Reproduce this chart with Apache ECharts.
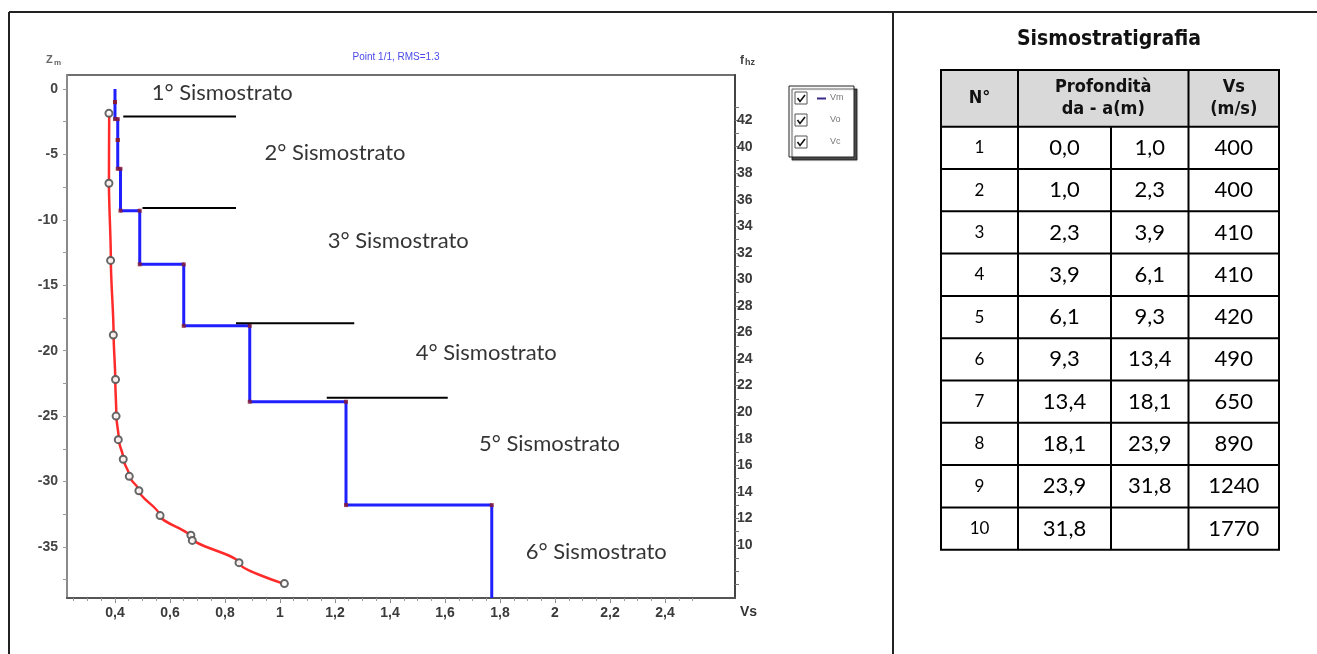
<!DOCTYPE html>
<html>
<head>
<meta charset="utf-8">
<script src="https://cdn.jsdelivr.net/npm/echarts@6/dist/echarts.min.js"></script>
<style>
html, body { margin: 0; padding: 0; background: #fff; }
#chart { width: 1317px; height: 654px; }
</style>
</head>
<body>
<div id="chart"></div>
<script>
// sismostratigrafia table: depth from/to (m), Vs (m/s)
var layerNo   = [1, 2, 3, 4, 5, 6, 7, 8, 9, 10];
var depthFrom = [0.0, 1.0, 2.3, 3.9, 6.1, 9.3, 13.4, 18.1, 23.9, 31.8];
var depthTo   = [1.0, 2.3, 3.9, 6.1, 9.3, 13.4, 18.1, 23.9, 31.8, null];
var vsLayer   = [400, 400, 410, 410, 420, 490, 650, 890, 1240, 1770];

// observed points (Vo) - Vs in km/s, depth in m
var obsVs    = [0.378, 0.378, 0.384, 0.394, 0.402, 0.404, 0.412, 0.430, 0.452, 0.487, 0.564, 0.676, 0.681, 0.851, 1.016];
var obsDepth = [1.86, 7.2, 13.1, 18.8, 22.2, 25.0, 26.8, 28.3, 29.6, 30.7, 32.6, 34.1, 34.5, 36.2, 37.8];

// calculated curve (Vc)
var calcVs    = [0.379, 0.378, 0.385, 0.395, 0.401, 0.405, 0.414, 0.431, 0.453, 0.488, 0.563, 0.679, 0.850, 1.012];
var calcDepth = [1.86, 7.2, 13.1, 18.8, 22.2, 25.0, 26.8, 28.3, 29.6, 30.7, 32.6, 34.3, 36.2, 37.8];

// hand drawn boundary lines: depth, Vs start, Vs end
var bndDepth = [2.1, 9.1, 17.9, 23.6];
var bndFrom  = [0.43, 0.50, 0.84, 1.17];
var bndTo    = [0.84, 0.84, 1.27, 1.61];

// strata labels
var strataNames = ['1° Sismostrato', '2° Sismostrato', '3° Sismostrato', '4° Sismostrato', '5° Sismostrato', '6° Sismostrato'];
var strataVs    = [0.79, 1.20, 1.43, 1.75, 1.98, 2.15];
var strataDepth = [0.3, 4.9, 11.6, 20.2, 27.1, 35.4];

// axes
var xMin = 0.2255, xMax = 2.6545;
var yMin = -38.9, yMax = 1.07;
var fMin = 6, fMax = 45.4;
var xLabels = [0.4, 0.6, 0.8, 1, 1.2, 1.4, 1.6, 1.8, 2, 2.2, 2.4];
var yLabels = [0, -5, -10, -15, -20, -25, -30, -35];
var fLabels = [10, 12, 14, 16, 18, 20, 22, 24, 26, 28, 30, 32, 34, 36, 38, 40, 42];

var xMinor = [], yMinor = [], fMinor = [];
for (var i = 5; i <= 50; i++) xMinor.push(i * 0.05);
for (var i = 0; i <= 15; i++) yMinor.push(-i * 2.5);
for (var i = 7; i <= 43; i++) fMinor.push(i);

// blue step profile
var vmData = [], vmDots = [];
for (var i = 0; i < vsLayer.length; i++) {
  var v = vsLayer[i] / 1000;
  vmData.push([v, -depthFrom[i]]);
  vmData.push([v, depthTo[i] == null ? yMin : -depthTo[i]]);
  if (depthTo[i] != null) {
    vmDots.push([v, -depthTo[i]]);
    vmDots.push([vsLayer[i + 1] / 1000, -depthTo[i]]);
  }
}

var obsData = obsVs.map(function (v, i) { return [v, -obsDepth[i]]; });
var calcData = calcVs.map(function (v, i) { return [v, -calcDepth[i]]; });
var strataData = strataNames.map(function (n, i) { return { name: n, value: [strataVs[i], -strataDepth[i]] }; });

var series = [
  { name: 'Vc', type: 'line', data: calcData, smooth: 0.3, smoothMonotone: 'y', showSymbol: false,
    lineStyle: { color: '#ff2a2a', width: 2.5 }, z: 3 },
  { name: 'Vo', type: 'scatter', data: obsData, symbol: 'emptyCircle', symbolSize: 7,
    itemStyle: { color: '#555', borderWidth: 1.2, opacity: 0.9 }, z: 4 },
  { name: 'Vm', type: 'line', data: vmData, showSymbol: false,
    lineStyle: { color: '#2020ff', width: 3 }, z: 5 },
  { name: 'VmDots', type: 'scatter', data: vmDots, symbol: 'rect', symbolSize: 4,
    itemStyle: { color: '#8b1a2a' }, z: 6 },
  { name: 'strata', type: 'scatter', data: strataData, symbolSize: 0,
    label: { show: true, position: 'inside', formatter: '{b}', color: '#000',
      fontFamily: 'Lato', fontSize: 22 }, z: 8 }
];
bndDepth.forEach(function (d, i) {
  series.push({ type: 'line', data: [[bndFrom[i], -d], [bndTo[i], -d]], showSymbol: false,
    lineStyle: { color: '#000', width: 2 }, z: 7 });
});

function fmtNum(v) { return String(Math.round(v * 10) / 10).replace('.', ','); }
function fmt1(v) { var s = fmtNum(v); return s.indexOf(',') < 0 ? s + ',0' : s; }

// table graphic
var T = { cols: [941, 1018, 1111, 1188.5, 1279], top: 70, headB: 126.7, rowH: 42.3 };
var tableBottom = T.headB + T.rowH * layerNo.length;
var g = [];
g.push({ type: 'rect', shape: { x: T.cols[0], y: T.top, width: T.cols[4] - T.cols[0], height: T.headB - T.top },
  style: { fill: '#d9d9d9' } });
var hl = [T.top, T.headB];
for (var r = 1; r <= layerNo.length; r++) hl.push(T.headB + r * T.rowH);
hl.forEach(function (y) {
  g.push({ type: 'line', shape: { x1: T.cols[0] - 1, y1: y, x2: T.cols[4] + 1, y2: y }, style: { stroke: '#000', lineWidth: 2 } });
});
[0, 1, 3, 4].forEach(function (c) {
  g.push({ type: 'line', shape: { x1: T.cols[c], y1: T.top, x2: T.cols[c], y2: tableBottom }, style: { stroke: '#000', lineWidth: 2 } });
});
g.push({ type: 'line', shape: { x1: T.cols[2], y1: T.headB, x2: T.cols[2], y2: tableBottom }, style: { stroke: '#000', lineWidth: 2 } });

var headFont = 'bold 18px "Liberation Sans Narrow", "DejaVu Sans Condensed", sans-serif';
function txt(s, x, y, font, fill) {
  return { type: 'text', style: { text: s, x: x, y: y, align: 'center', verticalAlign: 'middle', font: font, fill: fill || '#111' } };
}
g.push(txt('Sismostratigrafia', 1109, 40, 'bold 21px "Liberation Sans Narrow", "DejaVu Sans Condensed", sans-serif'));
g.push(txt('N°', (T.cols[0] + T.cols[1]) / 2, 98, headFont));
g.push(txt('Profondità', (T.cols[1] + T.cols[3]) / 2, 87, headFont));
g.push(txt('da - a(m)', (T.cols[1] + T.cols[3]) / 2, 109, headFont));
g.push(txt('Vs', (T.cols[3] + T.cols[4]) / 2, 87, headFont));
g.push(txt('(m/s)', (T.cols[3] + T.cols[4]) / 2, 109, headFont));
var cellFont = '22px Lato, sans-serif';
layerNo.forEach(function (n, i) {
  var cy = T.headB + (i + 0.5) * T.rowH;
  g.push(txt(String(n), (T.cols[0] + T.cols[1]) / 2, cy, '17px Lato, sans-serif', '#000'));
  g.push(txt(fmt1(depthFrom[i]), (T.cols[1] + T.cols[2]) / 2, cy, cellFont, '#000'));
  if (depthTo[i] != null) g.push(txt(fmt1(depthTo[i]), (T.cols[2] + T.cols[3]) / 2, cy, cellFont, '#000'));
  g.push(txt(String(vsLayer[i]), (T.cols[3] + T.cols[4]) / 2, cy, cellFont, '#000'));
});

// frame lines
g.push({ type: 'line', shape: { x1: 9, y1: 12, x2: 1317, y2: 12 }, style: { stroke: '#222', lineWidth: 2 } });
g.push({ type: 'line', shape: { x1: 9, y1: 12, x2: 9, y2: 654 }, style: { stroke: '#222', lineWidth: 2 } });
g.push({ type: 'line', shape: { x1: 893, y1: 12, x2: 893, y2: 654 }, style: { stroke: '#222', lineWidth: 2 } });

// chart captions
g.push({ type: 'text', style: { text: 'Z', x: 46, y: 60, font: 'bold 11px "Liberation Sans", sans-serif', fill: '#666', verticalAlign: 'middle' } });
g.push({ type: 'text', style: { text: 'm', x: 54, y: 63, font: 'bold 8px "Liberation Sans", sans-serif', fill: '#666', verticalAlign: 'middle' } });
g.push({ type: 'text', style: { text: 'Point 1/1, RMS=1.3', x: 396, y: 57, align: 'center', font: '10px "Liberation Sans", sans-serif', fill: '#4a4ae8', verticalAlign: 'middle' } });
g.push({ type: 'text', style: { text: 'f', x: 740, y: 61, font: 'bold 12px "Liberation Sans", sans-serif', fill: '#444', verticalAlign: 'middle' } });
g.push({ type: 'text', style: { text: 'hz', x: 745, y: 63, font: 'bold 9px "Liberation Sans", sans-serif', fill: '#444', verticalAlign: 'middle' } });
g.push({ type: 'text', style: { text: 'Vs', x: 740, y: 612, font: 'bold 14px "Liberation Sans", sans-serif', fill: '#333', verticalAlign: 'middle' } });

// legend box
g.push({ type: 'rect', shape: { x: 789, y: 86, width: 65, height: 71 },
  style: { fill: '#fff', stroke: '#222', lineWidth: 1, shadowColor: 'rgba(0,0,0,0.7)', shadowOffsetX: 3, shadowOffsetY: 3, shadowBlur: 1 } });
['Vm', 'Vo', 'Vc'].forEach(function (n, i) {
  var by = 92 + i * 22;
  g.push({ type: 'rect', shape: { x: 795, y: by, width: 12, height: 12 }, style: { fill: '#fff', stroke: '#555', lineWidth: 1 } });
  g.push({ type: 'polyline', shape: { points: [[797.5, by + 6], [800, by + 9.5], [805, by + 3]] }, style: { stroke: '#111', lineWidth: 1.6, fill: null } });
  g.push({ type: 'text', style: { text: n, x: 830, y: by + 6, font: '9px "Liberation Sans", sans-serif', fill: '#777', verticalAlign: 'middle' } });
});
g.push({ type: 'line', shape: { x1: 817, y1: 98.5, x2: 826, y2: 98.5 }, style: { stroke: '#3a2a8a', lineWidth: 2 } });

var axisFont = { fontFamily: 'Liberation Sans', fontWeight: 'bold', fontSize: 14, color: '#3a3a3a' };

var option = {
  animation: false,
  backgroundColor: '#fff',
  grid: { left: 67, top: 75, width: 668, height: 523, show: true, borderColor: '#707070', borderWidth: 2 },
  xAxis: [
    { type: 'value', min: xMin, max: xMax, splitLine: { show: false },
      axisLine: { onZero: false, lineStyle: { color: '#555', width: 2 } },
      axisTick: { customValues: xLabels, length: 5, lineStyle: { color: '#888' } },
      axisLabel: Object.assign({ customValues: xLabels, margin: 8, formatter: fmtNum }, axisFont) },
    { type: 'value', min: xMin, max: xMax, position: 'bottom', splitLine: { show: false },
      axisLine: { show: false, onZero: false },
      axisTick: { customValues: xMinor, length: 3, lineStyle: { color: '#999' } },
      axisLabel: { show: false } }
  ],
  yAxis: [
    { type: 'value', min: yMin, max: yMax, splitLine: { show: false },
      axisLine: { onZero: false, lineStyle: { color: '#8a8a8a', width: 2 } },
      axisTick: { customValues: yMinor, length: 4, lineStyle: { color: '#999' } },
      axisLabel: Object.assign({ customValues: yLabels, margin: 9, color: '#444' }, { fontFamily: 'Liberation Sans', fontWeight: 'bold', fontSize: 14 }) },
    { type: 'value', min: fMin, max: fMax, position: 'right', splitLine: { show: false },
      axisLine: { show: true, onZero: false, lineStyle: { color: '#444', width: 2 } },
      axisTick: { customValues: fMinor, length: 4, lineStyle: { color: '#777' } },
      axisLabel: Object.assign({ customValues: fLabels, margin: 2 }, axisFont) }
  ],
  series: series,
  graphic: g
};

var chart = echarts.init(document.getElementById('chart'));
chart.setOption(option);
</script>
</body>
</html>
